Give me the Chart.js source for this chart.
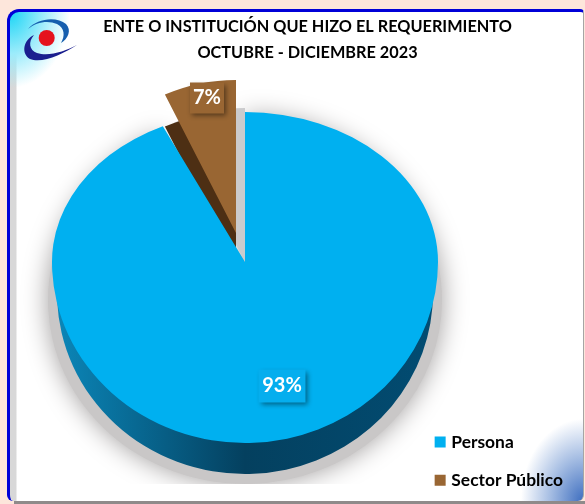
<!DOCTYPE html>
<html>
<head>
<meta charset="utf-8">
<script src="https://cdn.jsdelivr.net/npm/chart.js@4/dist/chart.umd.js"></script>
<style>
  html, body { margin: 0; padding: 0; background: #fde6db; }
  #frame {
    position: absolute; left: 7px; top: 9px; width: 577px; height: 492px;
    box-sizing: border-box; overflow: hidden;
    border-top: 3px solid #0000d8; border-left: 3px solid #0000d8;
    border-right: 1px solid #a5a5a5;
    border-radius: 12px 4px 6px 6px;
    background:
      radial-gradient(ellipse 60px 76px at 0 0, #19d4f5 0%, #9cecfb 55%, rgba(255,255,255,0) 100%),
      radial-gradient(ellipse 62px 82px at 100% 100%, #3f6fc0 0%, #a9c0e4 55%, rgba(255,255,255,0) 100%),
      linear-gradient(to right, #d8d8d8 0, #d8d8d8 6px, #fff 7px);
  }
  #bottom { position: absolute; left: 14px; top: 501px; width: 571px; height: 3px; background: #8f8a8a; }
  canvas { position: absolute; left: 0; top: 0; }
  #logo { position: absolute; left: 15px; top: 12px; }
</style>
</head>
<body>
<div id="frame"></div>
<div id="bottom"></div>
<canvas id="chart" width="585" height="504"></canvas>
<svg id="logo" width="75" height="60" viewBox="0 0 75 60">
  <path d="M13 17 C22 6 42 4 51 12 C57 18 53 27 46 31 C50 24 50 16 42 12 C33 8 21 10 13 17 Z" fill="#155fae"/>
  <path d="M19 23 C8 28 6 42 15 47 C27 52 48 42 62 33 C50 39 34 45 22 41 C14 38 13 30 19 23 Z" fill="#1a1f8f"/>
  <circle cx="31.7" cy="26" r="8" fill="#e5121d"/>
</svg>
<script>
const categories = ["Persona", "Sector Público"];
const values = [93, 7];
const colors = ["#00b0f0", "#996633"];
const titleLines = ["ENTE O INSTITUCIÓN QUE HIZO EL REQUERIMIENTO", "OCTUBRE - DICIEMBRE 2023"];

// draws one arc squashed into an ellipse, optionally clipped and with another fill
function drawArc(ctx, arc, p) {
  const saved = arc.options;
  const o = { backgroundColor: p.fill || saved.backgroundColor, borderColor: "transparent", borderWidth: 0,
    borderAlign: "center", borderJoinStyle: "round", offset: 0, spacing: 0, circular: true,
    borderRadius: { outerStart: 0, outerEnd: 0, innerStart: 0, innerEnd: 0 } };
  arc.options = o;
  ctx.save();
  if (p.clip) {
    ctx.beginPath();
    ctx.rect(p.clip[0], p.clip[1], p.clip[2], p.clip[3]);
    ctx.clip();
  }
  if (p.blur) {
    ctx.shadowColor = "#a09d9d";
    ctx.shadowBlur = p.blur;
  }
  ctx.translate(p.cx, p.cy);
  ctx.scale(p.rx / arc.outerRadius, p.ry / arc.outerRadius);
  ctx.translate(-arc.x, -arc.y);
  arc.draw(ctx);
  ctx.restore();
  arc.options = saved;
}

function drawLabel(ctx, text, x, y, w, h, fill) {
  ctx.save();
  ctx.shadowColor = "rgba(0,0,0,0.45)";
  ctx.shadowBlur = 5;
  ctx.shadowOffsetX = 2;
  ctx.shadowOffsetY = 2;
  ctx.fillStyle = fill;
  ctx.fillRect(x - w / 2, y - h / 2, w, h);
  ctx.restore();
  ctx.fillStyle = "#ffffff";
  ctx.font = "bold 20px Lato";
  ctx.textAlign = "center";
  ctx.textBaseline = "middle";
  ctx.fillText(text, x, y);
}

const pie3d = {
  id: "pie3d",
  beforeDatasetsDraw(chart) {
    const ctx = chart.ctx;
    const [blue, brown] = chart.getDatasetMeta(0).data;
    const R = blue.outerRadius;
    const cx = 245, cy = 262, rx = 193, topRy = 150, lowRy = 181, depth = 31;
    const upper = [0, 0, 585, cy];
    const lower = [0, cy, 585, 504 - cy];

    // soft shadow under the disc, cut off near the bottom
    drawArc(ctx, blue, { cx: cx, cy: 300, rx: 197, ry: 184, clip: [0, 0, 585, 484], fill: "#c9c7c7", blur: 26 });

    // grey gap left behind by the pulled out slice
    drawArc(ctx, brown, { cx: cx, cy: cy, rx: 167, ry: topRy + 4, clip: upper, fill: "#cbcbcd" });

    // disc side
    const side = ctx.createLinearGradient(blue.x - R, 0, blue.x + R, 0);
    side.addColorStop(0, "#0b86b8");
    side.addColorStop(0.5, "#04405f");
    side.addColorStop(1, "#024c72");
    drawArc(ctx, blue, { cx: cx, cy: cy + depth, rx: 188, ry: lowRy, clip: [0, cy + 10, 585, 300], fill: side });

    // pulled out slice
    const bx = 236, by = 233, brx = 167, bry = 153;
    drawArc(ctx, brown, { cx: bx, cy: by + 32, rx: brx, ry: bry, fill: "#4d2f14" });
    drawArc(ctx, brown, { cx: bx, cy: by, rx: brx, ry: bry });

    // top of the disc
    drawArc(ctx, blue, { cx: cx, cy: cy, rx: rx, ry: topRy, clip: upper });
    drawArc(ctx, blue, { cx: cx, cy: cy, rx: rx, ry: lowRy, clip: lower });

    drawLabel(ctx, values[1] + "%", 207, 98, 34, 31, "#996633");
    drawLabel(ctx, values[0] + "%", 282, 386, 47, 33, "#05aeee");
    return false;
  }
};

new Chart(document.getElementById("chart"), {
  type: "pie",
  data: {
    labels: categories,
    datasets: [{ data: values, backgroundColor: colors, borderWidth: 0 }]
  },
  plugins: [pie3d],
  options: {
    responsive: false,
    animation: false,
    layout: { padding: { left: 42, top: 6, right: 12, bottom: -6 } },
    plugins: {
      tooltip: { enabled: false },
      title: {
        display: true,
        text: titleLines,
        color: "#000000",
        font: { family: "Lato", size: 16.3, weight: "bold", lineHeight: 1.6 },
        padding: { top: 8, bottom: 10 }
      },
      legend: {
        position: "right",
        align: "end",
        labels: {
          color: "#000000",
          boxWidth: 5,
          boxHeight: 5,
          padding: 21,
          font: { family: "Lato", size: 17.4, weight: "bold" },
          // a thick outline brings the small box up to the 11px square of the reference
          generateLabels: (chart) => categories.map((name, i) => ({
            text: name, fillStyle: colors[i], strokeStyle: colors[i],
            lineWidth: 6, lineJoin: "miter", fontColor: "#000000", index: i
          }))
        }
      }
    }
  }
});
</script>
</body>
</html>
